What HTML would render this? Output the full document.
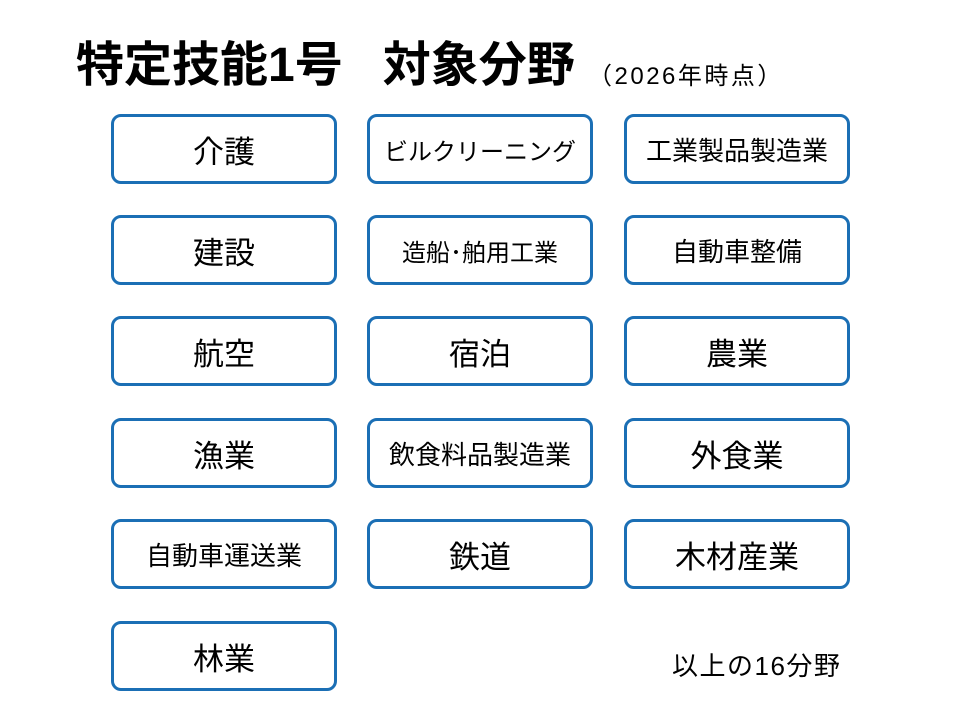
<!DOCTYPE html>
<html><head><meta charset="utf-8"><style>
body{margin:0;width:960px;height:720px;background:#fff;position:relative;overflow:hidden;font-family:"Liberation Sans","Noto Sans CJK JP",sans-serif;color:#000}
.t{position:absolute;left:76px;top:36px;font-size:48px;font-weight:bold;white-space:nowrap;line-height:60px}
.p{position:absolute;left:588px;top:56px;font-size:24px;letter-spacing:2.5px;white-space:nowrap}
.b{position:absolute;width:220px;height:64px;border:3px solid #1b6fb5;border-radius:10px;display:flex;align-items:center;justify-content:center;white-space:nowrap;font-size:31px;background:#fff}
.m{font-size:26px}.s{font-size:24px}
.n{position:absolute;left:672px;top:646px;font-size:26px;letter-spacing:1.5px;white-space:nowrap}
</style></head><body>
<div class="t">特定技能1号<span style="display:inline-block;width:40px"></span>対象分野</div>
<div class="p">（2026年時点）</div>
<div class="b" style="left:111px;top:114px">介護</div>
<div class="b s" style="left:367px;top:114px">ビルクリーニング</div>
<div class="b m" style="left:624px;top:114px">工業製品製造業</div>
<div class="b" style="left:111px;top:215px">建設</div>
<div class="b s" style="left:367px;top:215px">造船･舶用工業</div>
<div class="b m" style="left:624px;top:215px">自動車整備</div>
<div class="b" style="left:111px;top:316px">航空</div>
<div class="b" style="left:367px;top:316px">宿泊</div>
<div class="b" style="left:624px;top:316px">農業</div>
<div class="b" style="left:111px;top:418px">漁業</div>
<div class="b m" style="left:367px;top:418px">飲食料品製造業</div>
<div class="b" style="left:624px;top:418px">外食業</div>
<div class="b m" style="left:111px;top:519px">自動車運送業</div>
<div class="b" style="left:367px;top:519px">鉄道</div>
<div class="b" style="left:624px;top:519px">木材産業</div>
<div class="b" style="left:111px;top:621px">林業</div>
<div class="n">以上の16分野</div>
</body></html>
